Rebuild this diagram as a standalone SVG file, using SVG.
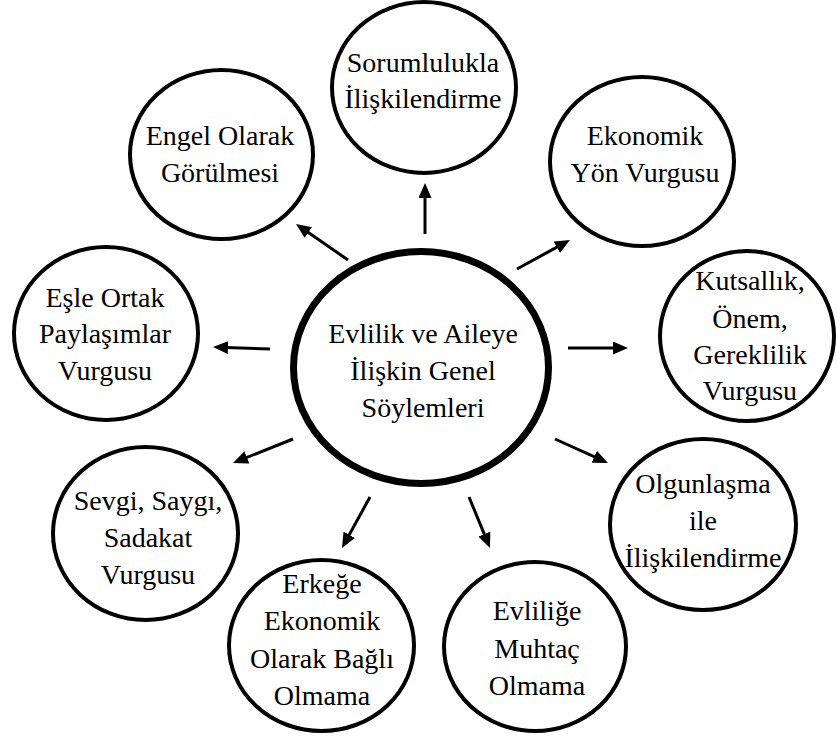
<svg xmlns="http://www.w3.org/2000/svg" width="837" height="740" viewBox="0 0 837 740" font-family="'Liberation Serif', 'Times New Roman', serif">
<style>
.n{fill:#fff;stroke:#000;stroke-width:4}
.c{fill:#fff;stroke:#000;stroke-width:7}
text{font-family:'Liberation Serif','Times New Roman',serif;font-size:28px;fill:#000;text-anchor:middle}
.e line{stroke:#000;stroke-width:3;marker-end:url(#ah)}
</style>
<defs>
<marker id="ah" markerUnits="userSpaceOnUse" markerWidth="15" markerHeight="13" refX="10" refY="6.5" orient="auto">
<path d="M0,0 L15,6.5 L0,13 Z" fill="#000"/>
</marker>
</defs>
<rect width="837" height="740" fill="#fff"/>
<g id="connectors" class="e">
<line x1="425" y1="234" x2="425" y2="188"/>
<line x1="348" y1="260" x2="300.1" y2="226.8"/>
<line x1="517" y1="269" x2="565.6" y2="242.4"/>
<line x1="270" y1="349" x2="218" y2="347.2"/>
<line x1="568" y1="348" x2="623" y2="348"/>
<line x1="293" y1="439" x2="237.6" y2="461.1"/>
<line x1="555" y1="439" x2="603.4" y2="460.9"/>
<line x1="370" y1="497" x2="344.4" y2="543.6"/>
<line x1="469" y1="497" x2="488.1" y2="543.4"/>
</g>
<g id="center">
<ellipse class="c" cx="421" cy="367.5" rx="127.5" ry="116"/>
<text x="423" y="343">Evlilik ve Aileye</text>
<text x="423" y="380">İlişkin Genel</text>
<text x="423" y="417">Söylemleri</text>
</g>
<g id="sorumluluk">
<ellipse class="n" cx="424" cy="87.5" rx="92" ry="85.5"/>
<text x="423" y="72">Sorumlulukla</text>
<text x="423" y="108">İlişkilendirme</text>
</g>
<g id="engel">
<ellipse class="n" cx="221.5" cy="154.5" rx="91.5" ry="84.5"/>
<text x="220" y="145">Engel Olarak</text>
<text x="220" y="182">Görülmesi</text>
</g>
<g id="ekonomik">
<ellipse class="n" cx="642" cy="161.5" rx="92" ry="84.5"/>
<text x="645" y="145">Ekonomik</text>
<text x="645" y="182">Yön Vurgusu</text>
</g>
<g id="esle">
<ellipse class="n" cx="106" cy="333.5" rx="92" ry="86.5"/>
<text x="105" y="307">Eşle Ortak</text>
<text x="105" y="343">Paylaşımlar</text>
<text x="105" y="380">Vurgusu</text>
</g>
<g id="kutsallik">
<ellipse class="n" cx="747" cy="336" rx="87" ry="85"/>
<text x="750" y="290">Kutsallık,</text>
<text x="750" y="328">Önem,</text>
<text x="750" y="364">Gereklilik</text>
<text x="750" y="400">Vurgusu</text>
</g>
<g id="sevgi">
<ellipse class="n" cx="145.5" cy="533.5" rx="92.5" ry="86.5"/>
<text x="148" y="510">Sevgi, Saygı,</text>
<text x="148" y="547">Sadakat</text>
<text x="148" y="584">Vurgusu</text>
</g>
<g id="erkege">
<ellipse class="n" cx="321.5" cy="645.5" rx="92.5" ry="85.5"/>
<text x="322" y="593">Erkeğe</text>
<text x="322" y="630">Ekonomik</text>
<text x="322" y="668">Olarak Bağlı</text>
<text x="322" y="705">Olmama</text>
</g>
<g id="evlilige">
<ellipse class="n" cx="535" cy="646.5" rx="91" ry="84.5"/>
<text x="537" y="620">Evliliğe</text>
<text x="537" y="658">Muhtaç</text>
<text x="537" y="695">Olmama</text>
</g>
<g id="olgunlasma">
<ellipse class="n" cx="703" cy="524.5" rx="93" ry="85.5"/>
<text x="703" y="493">Olgunlaşma</text>
<text x="703" y="530">ile</text>
<text x="703" y="567">İlişkilendirme</text>
</g>
</svg>
